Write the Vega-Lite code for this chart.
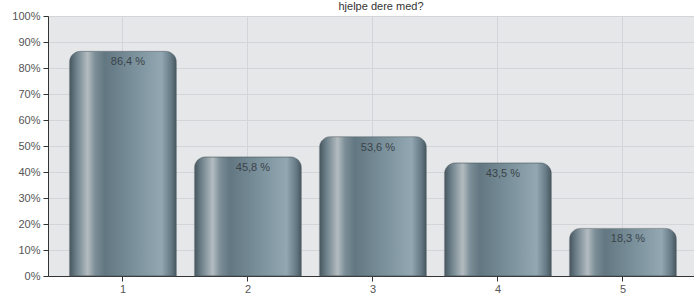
{
  "$schema": "https://vega.github.io/schema/vega-lite/v6.json",
  "width": 646,
  "height": 260,
  "autosize": {"type": "none"},
  "padding": {"left": 48, "top": 16, "right": 0, "bottom": 19},
  "background": "#ffffff",
  "title": {"text": "hjelpe dere med?", "fontSize": 11, "font": "Liberation Sans", "fontWeight": "normal", "color": "#333333", "offset": -2, "anchor": "middle", "dx": 10},
  "config": {
    "view": {"fill": "#e6e7e9", "stroke": null},
    "font": "Liberation Sans"
  },
  "data": {"values": [
    {"kategori": "1", "andel": 86.4, "etikett": "86,4 %"},
    {"kategori": "2", "andel": 45.8, "etikett": "45,8 %"},
    {"kategori": "3", "andel": 53.6, "etikett": "53,6 %"},
    {"kategori": "4", "andel": 43.5, "etikett": "43,5 %"},
    {"kategori": "5", "andel": 18.3, "etikett": "18,3 %"}
  ]},
  "encoding": {
    "x": {
      "field": "kategori", "type": "nominal",
      "scale": {"paddingInner": 0.144, "paddingOuter": 0.156, "align": 0.55},
      "axis": {
        "title": null, "labelAngle": 0, "labelFontSize": 11, "labelColor": "#555555",
        "domainColor": "#333333", "tickColor": "#333333", "tickSize": 5,
        "grid": true, "gridColor": "#d3d5d8", "bandPosition": 0.5, "labelPadding": 2
      }
    },
    "y": {
      "field": "andel", "type": "quantitative",
      "scale": {"domain": [0, 100], "nice": false},
      "axis": {
        "title": null, "values": [0,10,20,30,40,50,60,70,80,90,100],
        "labelExpr": "datum.value + '%'", "labelFontSize": 11, "labelColor": "#555555",
        "domainColor": "#333333", "tickColor": "#333333", "tickSize": 5,
        "gridColor": "#d3d5d8", "labelPadding": 3
      }
    }
  },
  "layer": [
    {
      "mark": {
        "type": "bar",
        "cornerRadiusTopLeft": 11, "cornerRadiusTopRight": 11,
        "stroke": "#4f5d65", "strokeWidth": 1, "strokeOpacity": 0.5,
        "color": {
          "gradient": "linear", "x1": 0, "y1": 0, "x2": 1, "y2": 0,
          "stops": [
            {"offset": 0, "color": "#46555d"},
            {"offset": 0.06, "color": "#6b7e88"},
            {"offset": 0.17, "color": "#b3bcc0"},
            {"offset": 0.24, "color": "#7c8e97"},
            {"offset": 0.33, "color": "#627782"},
            {"offset": 0.6, "color": "#7a909b"},
            {"offset": 0.86, "color": "#92a7b2"},
            {"offset": 0.95, "color": "#667a85"},
            {"offset": 1, "color": "#47565e"}
          ]
        }
      }
    },
    {
      "mark": {"type": "text", "baseline": "top", "dy": 5, "dx": 5, "fontSize": 11, "color": "#3a444a"},
      "encoding": {"text": {"field": "etikett"}}
    }
  ]
}
